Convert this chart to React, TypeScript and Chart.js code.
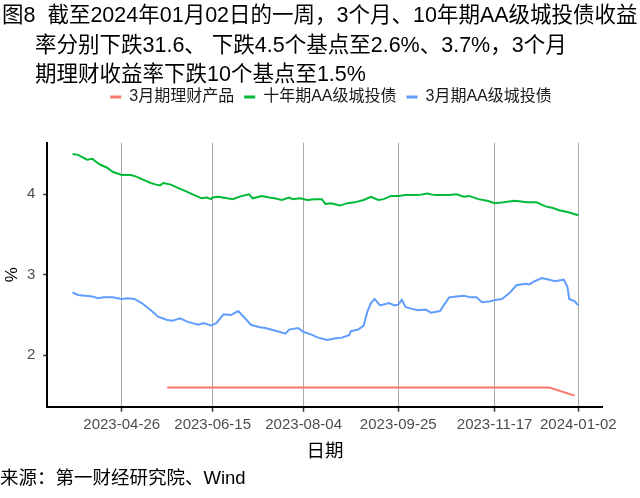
import React, { useEffect, useRef } from 'react';
import { Chart, registerables } from 'chart.js';

Chart.register(...registerables);

const titleLines = [
  '图8  截至2024年01月02日的一周，3个月、10年期AA级城投债收益',
  '率分别下跌31.6、 下跌4.5个基点至2.6%、3.7%，3个月',
  '期理财收益率下跌10个基点至1.5%',
];
const legendLabels = ['3月期理财产品', '十年期AA级城投债', '3月期AA级城投债'];
const xAxisTitle = '日期';
const yAxisTitle = '%';
const sourceText = '来源：第一财经研究院、Wind';
const xTickDates = ['2023-04-26', '2023-06-15', '2023-08-04', '2023-09-25', '2023-11-17', '2024-01-02'];
const yTicks = [2, 3, 4];

const wealthDates = ['2023-05-21', '2023-12-17', '2023-12-31'];
const wealthValues = [1.6, 1.6, 1.5];

const tenYearDates = [
  '2023-03-30', '2023-04-02', '2023-04-07', '2023-04-10', '2023-04-11', '2023-04-14', '2023-04-18', '2023-04-21',
  '2023-04-26', '2023-05-01', '2023-05-04', '2023-05-08', '2023-05-12', '2023-05-15', '2023-05-17', '2023-05-19',
  '2023-05-23', '2023-05-26', '2023-06-01', '2023-06-04', '2023-06-09', '2023-06-12', '2023-06-14', '2023-06-15',
  '2023-06-18', '2023-06-23', '2023-06-26', '2023-07-01', '2023-07-05', '2023-07-07', '2023-07-12', '2023-07-16',
  '2023-07-19', '2023-07-23', '2023-07-27', '2023-07-29', '2023-08-02', '2023-08-06', '2023-08-10', '2023-08-14',
  '2023-08-16', '2023-08-19', '2023-08-24', '2023-08-28', '2023-09-01', '2023-09-06', '2023-09-10', '2023-09-14',
  '2023-09-17', '2023-09-21', '2023-09-25', '2023-09-29', '2023-10-02', '2023-10-06', '2023-10-11', '2023-10-15',
  '2023-10-20', '2023-10-23', '2023-10-27', '2023-10-31', '2023-11-03', '2023-11-08', '2023-11-13', '2023-11-17',
  '2023-11-22', '2023-11-28', '2023-12-05', '2023-12-10', '2023-12-15', '2023-12-19', '2023-12-23', '2023-12-27',
  '2024-01-02',
];
const tenYearValues = [
  4.50, 4.49, 4.43, 4.44, 4.42, 4.37, 4.33, 4.28,
  4.24, 4.24, 4.22, 4.18, 4.14, 4.12, 4.11, 4.14,
  4.12, 4.09, 4.03, 4.00, 3.95, 3.96, 3.94, 3.96,
  3.97, 3.95, 3.94, 3.98, 4.00, 3.95, 3.98, 3.96,
  3.95, 3.93, 3.96, 3.94, 3.95, 3.93, 3.94, 3.94,
  3.88, 3.89, 3.86, 3.89, 3.90, 3.93, 3.97, 3.93,
  3.94, 3.98, 3.98, 3.99, 3.99, 3.99, 4.01, 3.99,
  3.99, 3.99, 4.00, 3.97, 3.98, 3.94, 3.92, 3.89,
  3.90, 3.92, 3.90, 3.90, 3.85, 3.83, 3.80, 3.78,
  3.74,
];

const aaDates = [
  '2023-03-30', '2023-04-02', '2023-04-06', '2023-04-10', '2023-04-13', '2023-04-16', '2023-04-21', '2023-04-26',
  '2023-04-29', '2023-05-03', '2023-05-07', '2023-05-12', '2023-05-16', '2023-05-21', '2023-05-24', '2023-05-28',
  '2023-06-02', '2023-06-04', '2023-06-07', '2023-06-10', '2023-06-14', '2023-06-17', '2023-06-21', '2023-06-25',
  '2023-06-29', '2023-07-02', '2023-07-06', '2023-07-11', '2023-07-14', '2023-07-17', '2023-07-22', '2023-07-25',
  '2023-07-27', '2023-08-01', '2023-08-04', '2023-08-08', '2023-08-12', '2023-08-17', '2023-08-21', '2023-08-25',
  '2023-08-29', '2023-08-30', '2023-09-03', '2023-09-06', '2023-09-08', '2023-09-10', '2023-09-12', '2023-09-15',
  '2023-09-20', '2023-09-23', '2023-09-25', '2023-09-27', '2023-09-29', '2023-10-02', '2023-10-06', '2023-10-10',
  '2023-10-13', '2023-10-18', '2023-10-20', '2023-10-23', '2023-10-27', '2023-10-31', '2023-11-04', '2023-11-07',
  '2023-11-10', '2023-11-14', '2023-11-18', '2023-11-21', '2023-11-25', '2023-11-29', '2023-12-04', '2023-12-06',
  '2023-12-09', '2023-12-13', '2023-12-17', '2023-12-20', '2023-12-25', '2023-12-27', '2023-12-28', '2023-12-31',
  '2024-01-02',
];
const aaValues = [
  2.78, 2.75, 2.74, 2.73, 2.71, 2.72, 2.72, 2.70,
  2.71, 2.70, 2.65, 2.56, 2.48, 2.44, 2.43, 2.46,
  2.41, 2.40, 2.38, 2.40, 2.37, 2.40, 2.51, 2.50,
  2.55, 2.48, 2.38, 2.35, 2.34, 2.32, 2.29, 2.27,
  2.32, 2.34, 2.29, 2.26, 2.22, 2.19, 2.21, 2.22,
  2.25, 2.30, 2.32, 2.37, 2.54, 2.65, 2.70, 2.62,
  2.65, 2.62, 2.63, 2.69, 2.60, 2.58, 2.56, 2.57,
  2.53, 2.55, 2.62, 2.72, 2.73, 2.74, 2.72, 2.72,
  2.66, 2.67, 2.69, 2.70, 2.77, 2.87, 2.89, 2.88,
  2.92, 2.96, 2.94, 2.92, 2.94, 2.85, 2.70, 2.67,
  2.62,
];

const COLORS = ['#F8766D', '#00BA38', '#619CFF'];
const FONT = '"Liberation Sans", Arial, "Noto Sans CJK SC", sans-serif';
const DAY = 86400000;
const toDay = (s: string) => {
  const [y, m, d] = s.split('-').map(Number);
  return Date.UTC(y, m - 1, d) / DAY;
};
const fmtDay = (v: number) => new Date(Math.round(v) * DAY).toISOString().slice(0, 10);
const toPoints = (dates: string[], values: number[]) => dates.map((d, i) => ({ x: toDay(d), y: values[i] }));

const LEGEND_CX = 331;
const LEGEND_CY = 97;

const legendPlacement = {
  id: 'legendPlacement',
  afterLayout(chart: any) {
    const lg = chart.legend;
    if (!lg) return;
    const p = lg.options.labels.padding;
    const dx = LEGEND_CX - (lg.left + lg.right) / 2;
    lg.left += dx;
    lg.right += dx;
    const dy = LEGEND_CY - (lg.top + p + 8);
    lg.top += dy;
    lg.bottom += dy;
  },
};

export default function App() {
  const ref = useRef<HTMLCanvasElement>(null);

  useEffect(() => {
    if (!ref.current) return;
    const chart = new Chart(ref.current, {
      type: 'line',
      data: {
        datasets: [
          { label: legendLabels[0], data: toPoints(wealthDates, wealthValues), borderColor: COLORS[0], backgroundColor: COLORS[0] },
          { label: legendLabels[1], data: toPoints(tenYearDates, tenYearValues), borderColor: COLORS[1], backgroundColor: COLORS[1] },
          { label: legendLabels[2], data: toPoints(aaDates, aaValues), borderColor: COLORS[2], backgroundColor: COLORS[2] },
        ],
      },
      options: {
        responsive: false,
        animation: false,
        devicePixelRatio: 1,
        layout: { padding: { top: 106.7, left: 0, right: 37.3, bottom: 30 } },
        elements: { point: { radius: 0 }, line: { borderWidth: 2, tension: 0 } },
        plugins: {
          tooltip: { enabled: false },
          legend: {
            position: 'top',
            labels: {
              usePointStyle: true,
              pointStyle: 'line',
              pointStyleWidth: 11,
              padding: 10,
              color: '#1a1a1a',
              font: { size: 16, family: FONT },
              generateLabels: (c: any) =>
                (Chart.defaults.plugins.legend.labels.generateLabels as any)(c).map((l: any) => ({ ...l, lineWidth: 3 })),
            },
          },
        },
        scales: {
          x: {
            type: 'linear',
            min: toDay('2023-04-26') - 40.9,
            max: toDay('2024-01-02') + 13.4,
            afterBuildTicks: (s: any) => {
              s.ticks = xTickDates.map((d) => ({ value: toDay(d) }));
            },
            afterFit: (s: any) => {
              s.height = 61.3;
            },
            ticks: {
              callback: (v: any) => fmtDay(Number(v)),
              color: '#4d4d4d',
              font: { size: 15, family: FONT },
              padding: 4,
              maxRotation: 0,
              autoSkip: false,
            },
            grid: { color: '#a8a8a8', lineWidth: 1, drawTicks: true, tickLength: 5, tickColor: '#333333', tickWidth: 1.5 },
            border: { color: '#000000', width: 2 },
            title: { display: true, text: xAxisTitle, color: '#000000', font: { size: 18.5, family: FONT }, padding: { top: 3, bottom: 4.5 } },
          },
          y: {
            min: 1.362,
            max: 4.641,
            afterBuildTicks: (s: any) => {
              s.ticks = yTicks.map((v) => ({ value: v }));
            },
            afterFit: (s: any) => {
              s.width = 47.3;
            },
            ticks: { color: '#4d4d4d', font: { size: 15, family: FONT }, padding: 8 },
            grid: { drawOnChartArea: false, drawTicks: true, tickLength: 4, tickColor: '#333333', tickWidth: 1.5 },
            border: { color: '#000000', width: 2 },
            title: { display: true, text: yAxisTitle, color: '#000000', font: { size: 17, family: FONT }, padding: { top: 2, bottom: 0 } },
          },
        },
      },
      plugins: [legendPlacement],
    } as any);
    return () => chart.destroy();
  }, []);

  return (
    <div style={{ position: 'fixed', left: 0, top: 0, width: 640, height: 498, background: '#ffffff', fontFamily: FONT }}>
      <canvas ref={ref} width={640} height={498} style={{ position: 'absolute', left: 0, top: 0, width: 640, height: 498 }} />
      <div style={{ position: 'absolute', left: 2, top: 1, fontSize: 21.5, lineHeight: '29.5px', color: '#000', whiteSpace: 'pre' }}>
        <div>{titleLines[0]}</div>
        <div style={{ paddingLeft: 33 }}>{titleLines[1]}</div>
        <div style={{ paddingLeft: 33 }}>{titleLines[2]}</div>
      </div>
      <div style={{ position: 'absolute', left: 0, top: 466, fontSize: 18.5, lineHeight: '24px', color: '#000', whiteSpace: 'pre' }}>
        {sourceText}
      </div>
    </div>
  );
}
